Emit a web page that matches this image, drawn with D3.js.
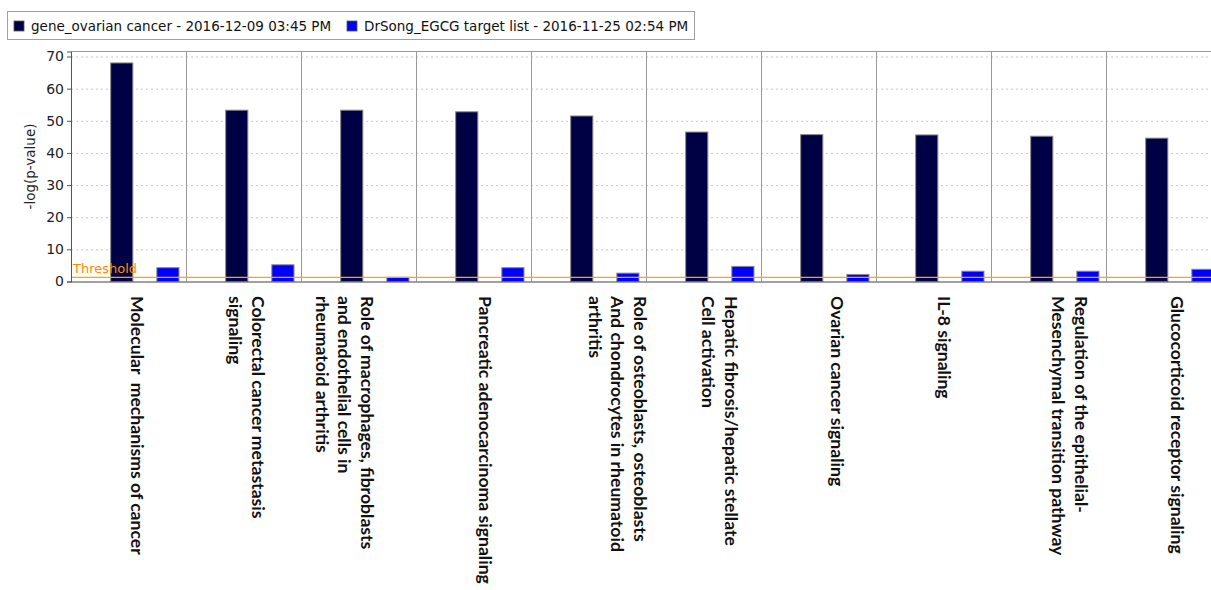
<!DOCTYPE html>
<html>
<head>
<meta charset="utf-8">
<script src="https://cdn.jsdelivr.net/npm/d3@7"></script>
<style>
  html, body { margin: 0; padding: 0; background: #fff; overflow: hidden; }
  svg { display: block; }
</style>
</head>
<body>
<div id="chart"></div>
<script>
// ── Data ────────────────────────────────────────────────────────────────
const categories = [
  "Molecular  mechanisms of cancer",
  "Colorectal cancer metastasis|signaling",
  "Role of macrophages, fibroblasts|and endothelial cells in|rheumatoid arthritis",
  "Pancreatic adenocarcinoma signaling",
  "Role of osteoblasts, osteoblasts|And chondrocytes in rheumatoid|arthritis",
  "Hepatic fibrosis/hepatic stellate|Cell activation",
  "Ovarian cancer signaling",
  "IL-8 signaling",
  "Regulation of the epithelial-|Mesenchymal transition pathway",
  "Glucocorticoid receptor signaling"
];
const seriesNames = [
  "gene_ovarian cancer - 2016-12-09 03:45 PM",
  "DrSong_EGCG target list - 2016-11-25 02:54 PM"
];
const ovarianValues = [68.0, 53.3, 53.3, 52.8, 51.5, 46.5, 45.7, 45.6, 45.2, 44.6];
const egcgValues    = [4.3, 5.2, 1.3, 4.3, 2.6, 4.7, 2.2, 3.2, 3.2, 3.8];
const yTicks = [0, 10, 20, 30, 40, 50, 60, 70];
const thresholdValue = 1.3;

// ── Palette ─────────────────────────────────────────────────────────────
const COLORS = ["#000045", "#0000ff"];
const BAR_EDGE = "#8a8a8a";
const GRID_C = "#c8c8c8";
const SEP_C = "#9a9a9a";
const THRESH_C = "#ffa500";

// hand-placed label shifts (px from band centre), as in the source figure
const labelShift = [8.5, 14.5, 8.5, 11.5, 51.5, 27.5, 18.5, 10.5, 32.5, 13.5];

const W = 1211, H = 590;
const plot = { left: 71, right: 1221, top: 51.5, bottom: 281.5 };

const svg = d3.select("#chart").append("svg")
  .attr("width", W).attr("height", H)
  .attr("viewBox", `0 0 ${W} ${H}`);

// ── Legend ──────────────────────────────────────────────────────────────
const legend = svg.append("g");
legend.append("rect")
  .attr("x", 7.5).attr("y", 11.5).attr("width", 687).attr("height", 28)
  .attr("fill", "#fff").attr("stroke", "#a0a0a0");
const legX = [14, 347];
seriesNames.forEach((name, i) => {
  legend.append("rect")
    .attr("x", legX[i]).attr("y", 21).attr("width", 10).attr("height", 10)
    .attr("fill", COLORS[i]).attr("stroke", "#555").attr("stroke-width", 0.8);
  legend.append("text")
    .attr("x", legX[i] + 17).attr("y", 31)
    .attr("font-family", "DejaVu Sans, sans-serif").attr("font-size", 13.5)
    .attr("fill", "#111")
    .text(name);
});

// ── Scales ──────────────────────────────────────────────────────────────
const x = d3.scaleBand().domain(categories).range([plot.left, plot.right]).padding(0);
const bw = x.bandwidth();
const xs = d3.scaleBand().domain([0, 1])
  .range([bw * 0.345, bw * 0.939]).paddingInner(0.52).paddingOuter(0);
const y = d3.scaleLinear().domain([0, 71.56]).range([plot.bottom, plot.top]);

// ── Grid ────────────────────────────────────────────────────────────────
svg.append("g")
  .attr("transform", `translate(${plot.left},0)`)
  .call(d3.axisLeft(y).tickValues(yTicks.slice(1)).tickSize(-(plot.right - plot.left)).tickFormat(""))
  .call(g => g.select(".domain").remove())
  .selectAll("line")
  .attr("stroke", GRID_C).attr("stroke-dasharray", "2,3");

// category separators
svg.append("g").selectAll("line")
  .data(categories.slice(1)).enter().append("line")
  .attr("x1", d => Math.round(x(d)) + 0.5).attr("x2", d => Math.round(x(d)) + 0.5)
  .attr("y1", plot.top).attr("y2", plot.bottom)
  .attr("stroke", SEP_C).attr("stroke-width", 1);

// plot top border
svg.append("line")
  .attr("x1", plot.left).attr("x2", plot.right)
  .attr("y1", plot.top).attr("y2", plot.top)
  .attr("stroke", SEP_C);

// ── Bars ────────────────────────────────────────────────────────────────
[ovarianValues, egcgValues].forEach((vals, s) => {
  svg.append("g").selectAll("rect")
    .data(vals).enter().append("rect")
    .attr("x", (d, i) => x(categories[i]) + xs(s))
    .attr("y", d => y(d))
    .attr("width", xs.bandwidth())
    .attr("height", d => y(0) - y(d))
    .attr("fill", COLORS[s])
    .attr("stroke", BAR_EDGE).attr("stroke-width", 1);
});

// ── Threshold ───────────────────────────────────────────────────────────
svg.append("line")
  .attr("x1", plot.left).attr("x2", plot.right)
  .attr("y1", y(thresholdValue)).attr("y2", y(thresholdValue))
  .attr("stroke", THRESH_C).attr("stroke-width", 1.2);
svg.append("text")
  .attr("x", plot.left + 2).attr("y", y(thresholdValue) - 4)
  .attr("font-family", "DejaVu Sans, sans-serif").attr("font-size", 13)
  .attr("fill", "#ff8c00")
  .text("Threshold");

// ── Axes ────────────────────────────────────────────────────────────────
const yAxis = svg.append("g")
  .attr("transform", `translate(${plot.left},0)`)
  .call(d3.axisLeft(y).tickValues(yTicks).tickSize(4).tickPadding(3));
yAxis.select(".domain").attr("stroke", "#555");
yAxis.selectAll(".tick line").attr("stroke", "#555");
yAxis.selectAll("text")
  .attr("font-family", "DejaVu Sans, sans-serif").attr("font-size", 14)
  .attr("fill", "#222");

svg.append("line")
  .attr("x1", plot.left).attr("x2", plot.right)
  .attr("y1", plot.bottom + 0.5).attr("y2", plot.bottom + 0.5)
  .attr("stroke", "#444").attr("stroke-width", 1.2);

svg.append("text")
  .attr("transform", `translate(35,${(plot.top + plot.bottom) / 2}) rotate(-90)`)
  .attr("text-anchor", "middle")
  .attr("font-family", "DejaVu Sans, sans-serif").attr("font-size", 13.5)
  .attr("fill", "#222")
  .text("-log(p-value)");

// ── Category labels (rotated, read top to bottom) ───────────────────────
const labels = svg.append("g").selectAll("text")
  .data(categories).enter().append("text")
  .attr("transform", (d, i) => `translate(${x(d) + bw / 2 + labelShift[i]},296) rotate(90)`)
  .attr("font-family", "Lato, sans-serif").attr("font-weight", "bold")
  .attr("font-size", 17.6).attr("fill", "#111")
  .style("white-space", "pre");

labels.each(function(d) {
  const t = d3.select(this);
  d.split("|").forEach((line, k) => {
    t.append("tspan")
      .attr("x", 0)
      .attr("dy", k === 0 ? "0.35em" : 22.5)
      .text(line);
  });
});
</script>
</body>
</html>
